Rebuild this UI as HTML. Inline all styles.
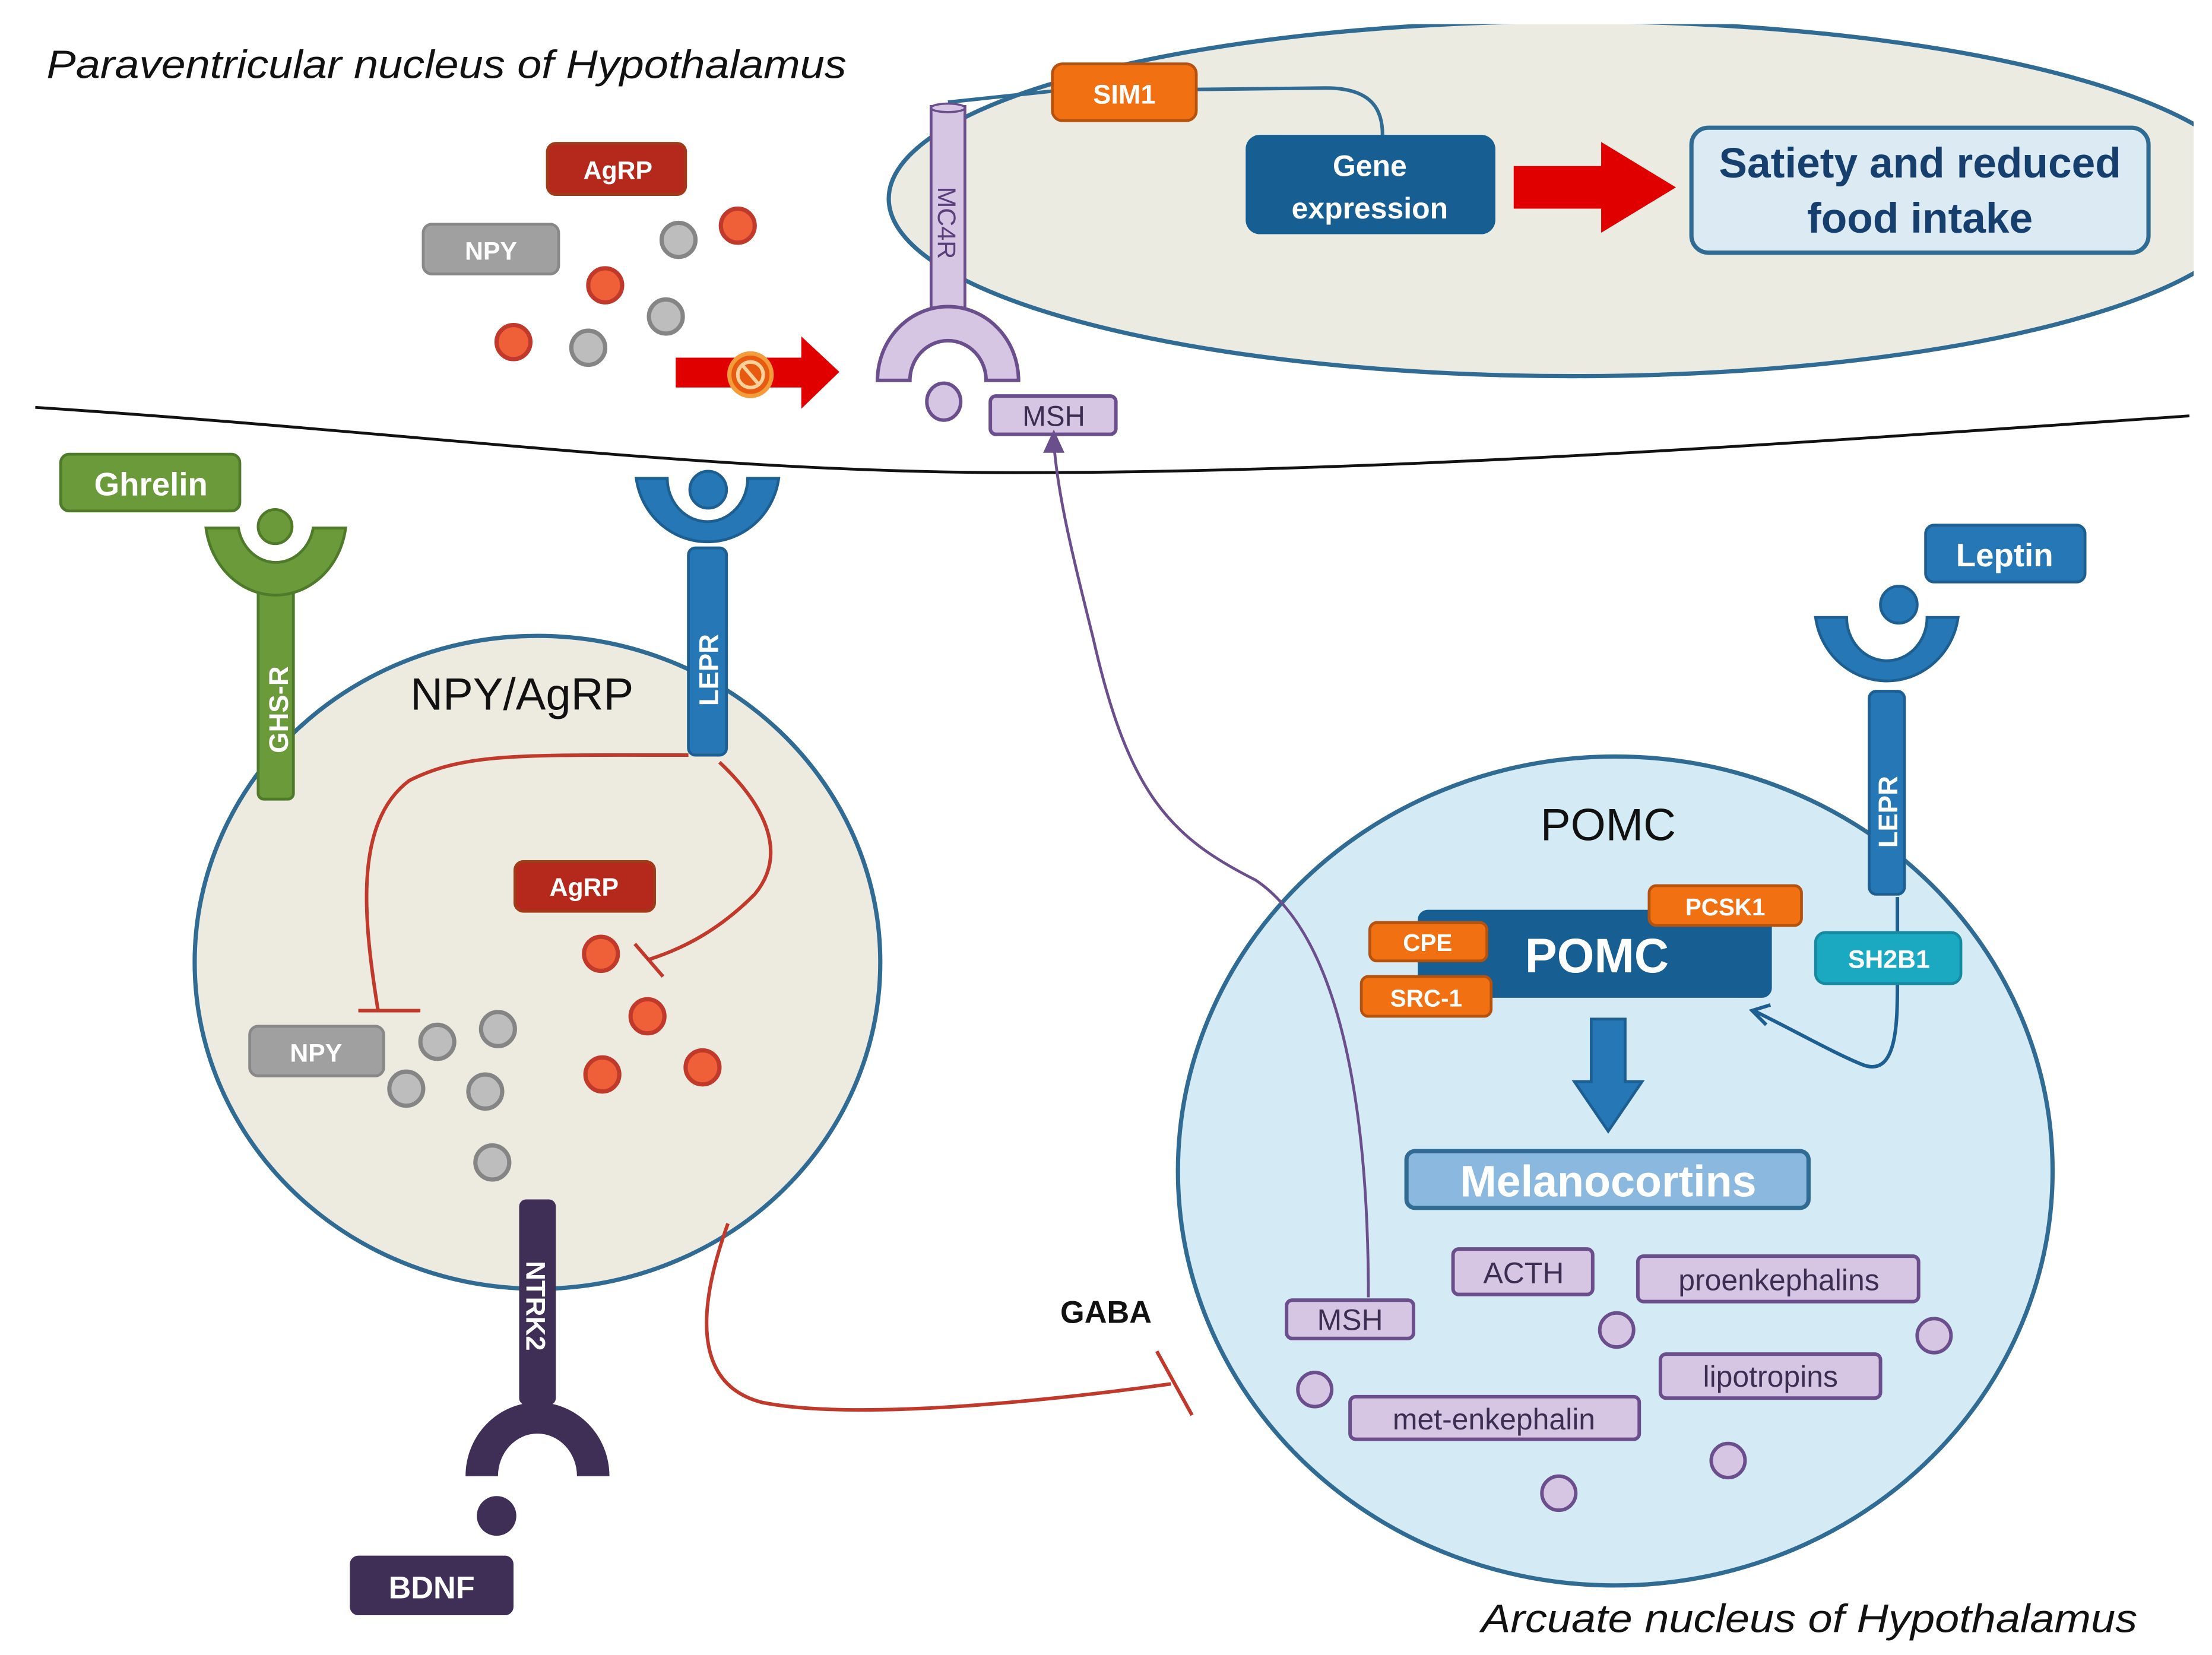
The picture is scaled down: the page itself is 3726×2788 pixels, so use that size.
<!DOCTYPE html>
<html><head><meta charset="utf-8"><style>
html,body{margin:0;padding:0;background:#fff;}
svg{display:block;}
text{font-family:"Liberation Sans",sans-serif;}
.w{fill:#fff;font-weight:bold;text-anchor:middle;}
.p{fill:#3c2d52;text-anchor:middle;}
</style></head><body>
<svg width="3726" height="2788" viewBox="0 0 1568 1166" preserveAspectRatio="none" xmlns="http://www.w3.org/2000/svg">
<defs>
<clipPath id="c1"><rect x="0" y="17" width="1555" height="300"/></clipPath>
</defs>
<rect width="1568" height="1166" fill="#fff"/>

<g clip-path="url(#c1)">
<ellipse cx="1115" cy="140" rx="485" ry="125" fill="#ecebe2" stroke="#2f6b93" stroke-width="3"/>
</g>

<text x="33" y="55" font-size="28" font-style="italic" fill="#111" textLength="567" lengthAdjust="spacingAndGlyphs">Paraventricular nucleus of Hypothalamus</text>

<path d="M25,287 C300,305 500,333 720,333 C1000,333 1300,310 1552,293" fill="none" stroke="#111" stroke-width="2"/>

<path d="M672,72 L748,64 M848,63 L940,62 C975,62 980,80 980,95" fill="none" stroke="#2f6b93" stroke-width="2.5"/>
<rect x="746" y="45" width="102" height="40" rx="7" fill="#f07012" stroke="#b4520e" stroke-width="2"/>
<text x="797" y="73" class="w" font-size="19">SIM1</text>

<rect x="883" y="95" width="177" height="70" rx="10" fill="#175e93"/>
<text x="971" y="124" class="w" font-size="21" font-weight="normal">Gene</text>
<text x="971" y="154" class="w" font-size="21" font-weight="normal">expression</text>

<path d="M1073,117 L1135,117 L1135,100 L1188,132 L1135,164 L1135,147 L1073,147 Z" fill="#e00000"/>
<rect x="1199" y="90" width="324" height="88" rx="12" fill="#dceaf4" stroke="#2f6b93" stroke-width="3"/>
<text x="1361" y="125" text-anchor="middle" font-size="30" font-weight="bold" fill="#173f6e">Satiety and reduced</text>
<text x="1361" y="164" text-anchor="middle" font-size="30" font-weight="bold" fill="#173f6e">food intake</text>

<rect x="660" y="75" width="24" height="145" fill="#d6c6e3" stroke="#6b4e8c" stroke-width="2"/>
<ellipse cx="672" cy="76" rx="12" ry="3" fill="#d6c6e3" stroke="#6b4e8c" stroke-width="1.5"/>
<text transform="translate(665,157) rotate(90)" text-anchor="middle" font-size="18" fill="#5a3f7a">MC4R</text>
<path d="M622,268 A50,52 0 0 1 722,268 L699,268 A27,28 0 0 0 645,268 Z" fill="#d6c6e3" stroke="#6b4e8c" stroke-width="2.5"/>
<ellipse cx="669" cy="283" rx="12" ry="13" fill="#d6c6e3" stroke="#6b4e8c" stroke-width="2.5"/>
<rect x="702" y="279" width="89" height="27" rx="4" fill="#d6c6e3" stroke="#6b4e8c" stroke-width="2.5"/>
<text x="747" y="300" class="p" font-size="20">MSH</text>

<rect x="388" y="101" width="98" height="36" rx="6" fill="#b5291c" stroke="#a03a18" stroke-width="2"/>
<text x="438" y="126" class="w" font-size="18">AgRP</text>
<rect x="300" y="158" width="96" height="35" rx="6" fill="#a0a0a0" stroke="#888" stroke-width="2"/>
<text x="348" y="183" class="w" font-size="18">NPY</text>
<g stroke-width="3">
<circle cx="481" cy="169" r="12" fill="#bdbdbd" stroke="#858585"/>
<circle cx="523" cy="159" r="12" fill="#ef6039" stroke="#c0392b"/>
<circle cx="429" cy="201" r="12" fill="#ef6039" stroke="#c0392b"/>
<circle cx="472" cy="223" r="12" fill="#bdbdbd" stroke="#858585"/>
<circle cx="364" cy="241" r="12" fill="#ef6039" stroke="#c0392b"/>
<circle cx="417" cy="245" r="12" fill="#bdbdbd" stroke="#858585"/>
</g>
<path d="M479,252 L568,252 L568,237 L595,262 L568,288 L568,273 L479,273 Z" fill="#e00000"/>
<circle cx="532" cy="264" r="15" fill="#e85a10" stroke="#f39c3a" stroke-width="3"/>
<circle cx="532" cy="264" r="9" fill="none" stroke="#ffd19a" stroke-width="2.5"/>
<line x1="526" y1="257" x2="538" y2="271" stroke="#ffd19a" stroke-width="2.5"/>

<ellipse cx="381" cy="678" rx="243" ry="230" fill="#edeae0" stroke="#2f6b93" stroke-width="3"/>
<text x="370" y="500" text-anchor="middle" font-size="32" fill="#111">NPY/AgRP</text>

<rect x="43" y="320" width="127" height="40" rx="6" fill="#6a9a3a" stroke="#4f7a2a" stroke-width="2"/>
<text x="107" y="349" class="w" font-size="23">Ghrelin</text>
<rect x="183" y="400" width="25" height="163" rx="4" fill="#6a9a3a" stroke="#4f7a2a" stroke-width="2"/>
<text transform="translate(204,500) rotate(-90)" class="w" font-size="19">GHS-R</text>
<path d="M146,372 A50,55 0 0 0 245,372 L222,372 A27,30 0 0 1 169,372 Z" fill="#6a9a3a" stroke="#4f7a2a" stroke-width="2"/>
<circle cx="195" cy="371" r="12" fill="#6a9a3a" stroke="#4f7a2a" stroke-width="2"/>

<path d="M451,337 A51,52 0 0 0 552,337 L530,337 A28,30 0 0 1 473,337 Z" fill="#2677b5" stroke="#1e5f92" stroke-width="2"/>
<circle cx="502" cy="345" r="13" fill="#2677b5" stroke="#1e5f92" stroke-width="2"/>
<rect x="488" y="386" width="27" height="146" rx="5" fill="#2677b5" stroke="#1e5f92" stroke-width="2"/>
<text transform="translate(509,472) rotate(-90)" class="w" font-size="19">LEPR</text>

<path d="M488,532 C370,532 330,530 290,550 C250,580 258,650 268,712" fill="none" stroke="#c0392b" stroke-width="2.5"/>
<line x1="254" y1="712" x2="298" y2="712" stroke="#c0392b" stroke-width="2.5"/>
<path d="M510,537 C540,565 560,600 535,630 C510,655 485,668 460,676" fill="none" stroke="#c0392b" stroke-width="2.5"/>
<line x1="450" y1="665" x2="470" y2="688" stroke="#c0392b" stroke-width="2.5"/>

<rect x="365" y="607" width="99" height="35" rx="6" fill="#b5291c" stroke="#a03a18" stroke-width="2"/>
<text x="414" y="631" class="w" font-size="18">AgRP</text>
<rect x="177" y="723" width="95" height="35" rx="6" fill="#a0a0a0" stroke="#888" stroke-width="2"/>
<text x="224" y="748" class="w" font-size="18">NPY</text>
<g stroke-width="3">
<circle cx="426" cy="672" r="12" fill="#ef6039" stroke="#c0392b"/>
<circle cx="459" cy="716" r="12" fill="#ef6039" stroke="#c0392b"/>
<circle cx="427" cy="757" r="12" fill="#ef6039" stroke="#c0392b"/>
<circle cx="498" cy="752" r="12" fill="#ef6039" stroke="#c0392b"/>
<circle cx="310" cy="734" r="12" fill="#bdbdbd" stroke="#858585"/>
<circle cx="353" cy="725" r="12" fill="#bdbdbd" stroke="#858585"/>
<circle cx="288" cy="767" r="12" fill="#bdbdbd" stroke="#858585"/>
<circle cx="344" cy="769" r="12" fill="#bdbdbd" stroke="#858585"/>
<circle cx="349" cy="819" r="12" fill="#bdbdbd" stroke="#858585"/>
</g>

<rect x="368" y="845" width="26" height="145" rx="5" fill="#3f2f57"/>
<text transform="translate(373,920) rotate(90)" class="w" font-size="19">NTRK2</text>
<path d="M330,1040 A51,52 0 0 1 432,1040 L409,1040 A28,30 0 0 0 353,1040 Z" fill="#3f2f57"/>
<circle cx="352" cy="1068" r="14" fill="#3f2f57"/>
<rect x="248" y="1096" width="116" height="42" rx="6" fill="#3f2f57"/>
<text x="306" y="1126" class="w" font-size="22">BDNF</text>

<path d="M516,862 C495,920 490,975 540,988 C600,1000 720,990 830,975" fill="none" stroke="#c0392b" stroke-width="2.5"/>
<line x1="820" y1="952" x2="845" y2="997" stroke="#c0392b" stroke-width="2.5"/>
<text x="784" y="932" text-anchor="middle" font-size="22" font-weight="bold" fill="#111">GABA</text>

<ellipse cx="1145" cy="825" rx="310" ry="292" fill="#d4ebf5" stroke="#2f6b93" stroke-width="3"/>
<text x="1140" y="592" text-anchor="middle" font-size="32" fill="#111">POMC</text>

<path d="M970,914 C970,780 950,660 890,620 C830,590 800,560 775,450 C760,390 750,350 747,312" fill="none" stroke="#6b4e8c" stroke-width="2"/>
<path d="M741,318 L747,305 L753,318 Z" fill="#6b4e8c" stroke="#6b4e8c" stroke-width="2"/>

<rect x="1365" y="370" width="113" height="40" rx="6" fill="#2677b5" stroke="#1e5f92" stroke-width="2"/>
<text x="1421" y="399" class="w" font-size="23">Leptin</text>
<path d="M1287,435 A51,52 0 0 0 1388,435 L1366,435 A28,30 0 0 1 1309,435 Z" fill="#2677b5" stroke="#1e5f92" stroke-width="2"/>
<circle cx="1346" cy="426" r="13" fill="#2677b5" stroke="#1e5f92" stroke-width="2"/>
<rect x="1325" y="487" width="25" height="143" rx="5" fill="#2677b5" stroke="#1e5f92" stroke-width="2"/>
<text transform="translate(1345,572) rotate(-90)" class="w" font-size="19">LEPR</text>
<path d="M1345,632 L1345,658 M1345,692 C1345,720 1345,760 1320,750 C1300,742 1270,725 1243,712" fill="none" stroke="#1e5f92" stroke-width="2.5"/>
<path d="M1255,708 L1242,712 L1252,722" fill="none" stroke="#1e5f92" stroke-width="2.5"/>
<rect x="1287" y="657" width="103" height="36" rx="7" fill="#1aa9c0" stroke="#168aa0" stroke-width="2"/>
<text x="1339" y="682" class="w" font-size="18">SH2B1</text>

<rect x="1005" y="641" width="251" height="62" rx="7" fill="#175e93"/>
<text x="1132" y="685" class="w" font-size="34">POMC</text>
<rect x="1169" y="624" width="108" height="28" rx="5" fill="#f07012" stroke="#b4520e" stroke-width="2"/>
<text x="1223" y="645" class="w" font-size="17">PCSK1</text>
<rect x="971" y="650" width="83" height="27" rx="5" fill="#f07012" stroke="#b4520e" stroke-width="2"/>
<text x="1012" y="670" class="w" font-size="17">CPE</text>
<rect x="965" y="688" width="92" height="28" rx="5" fill="#f07012" stroke="#b4520e" stroke-width="2"/>
<text x="1011" y="709" class="w" font-size="17">SRC-1</text>

<path d="M1128,718 L1152,718 L1152,762 L1164,762 L1140,797 L1116,762 L1128,762 Z" fill="#2677b5" stroke="#1e5f92" stroke-width="2"/>
<rect x="997" y="811" width="285" height="40" rx="6" fill="#8ab8de" stroke="#2f6b93" stroke-width="3"/>
<text x="1140" y="843" class="w" font-size="31">Melanocortins</text>

<g fill="#d6c6e3" stroke="#6b4e8c" stroke-width="2.5">
<rect x="1030" y="880" width="99" height="32" rx="4"/>
<rect x="1161" y="885" width="199" height="32" rx="4"/>
<rect x="912" y="916" width="90" height="27" rx="4"/>
<rect x="1177" y="954" width="156" height="31" rx="4"/>
<rect x="957" y="984" width="205" height="30" rx="4"/>
<circle cx="1146" cy="937" r="12"/>
<circle cx="1371" cy="941" r="12"/>
<circle cx="932" cy="979" r="12"/>
<circle cx="1225" cy="1029" r="12"/>
<circle cx="1105" cy="1052" r="12"/>
</g>
<text x="1080" y="904" class="p" font-size="21">ACTH</text>
<text x="1261" y="909" class="p" font-size="21">proenkephalins</text>
<text x="957" y="937" class="p" font-size="21">MSH</text>
<text x="1255" y="977" class="p" font-size="21">lipotropins</text>
<text x="1059" y="1007" class="p" font-size="21">met-enkephalin</text>

<text x="1050" y="1150" font-size="28" font-style="italic" fill="#111" textLength="465" lengthAdjust="spacingAndGlyphs">Arcuate nucleus of Hypothalamus</text>
</svg>
</body></html>
